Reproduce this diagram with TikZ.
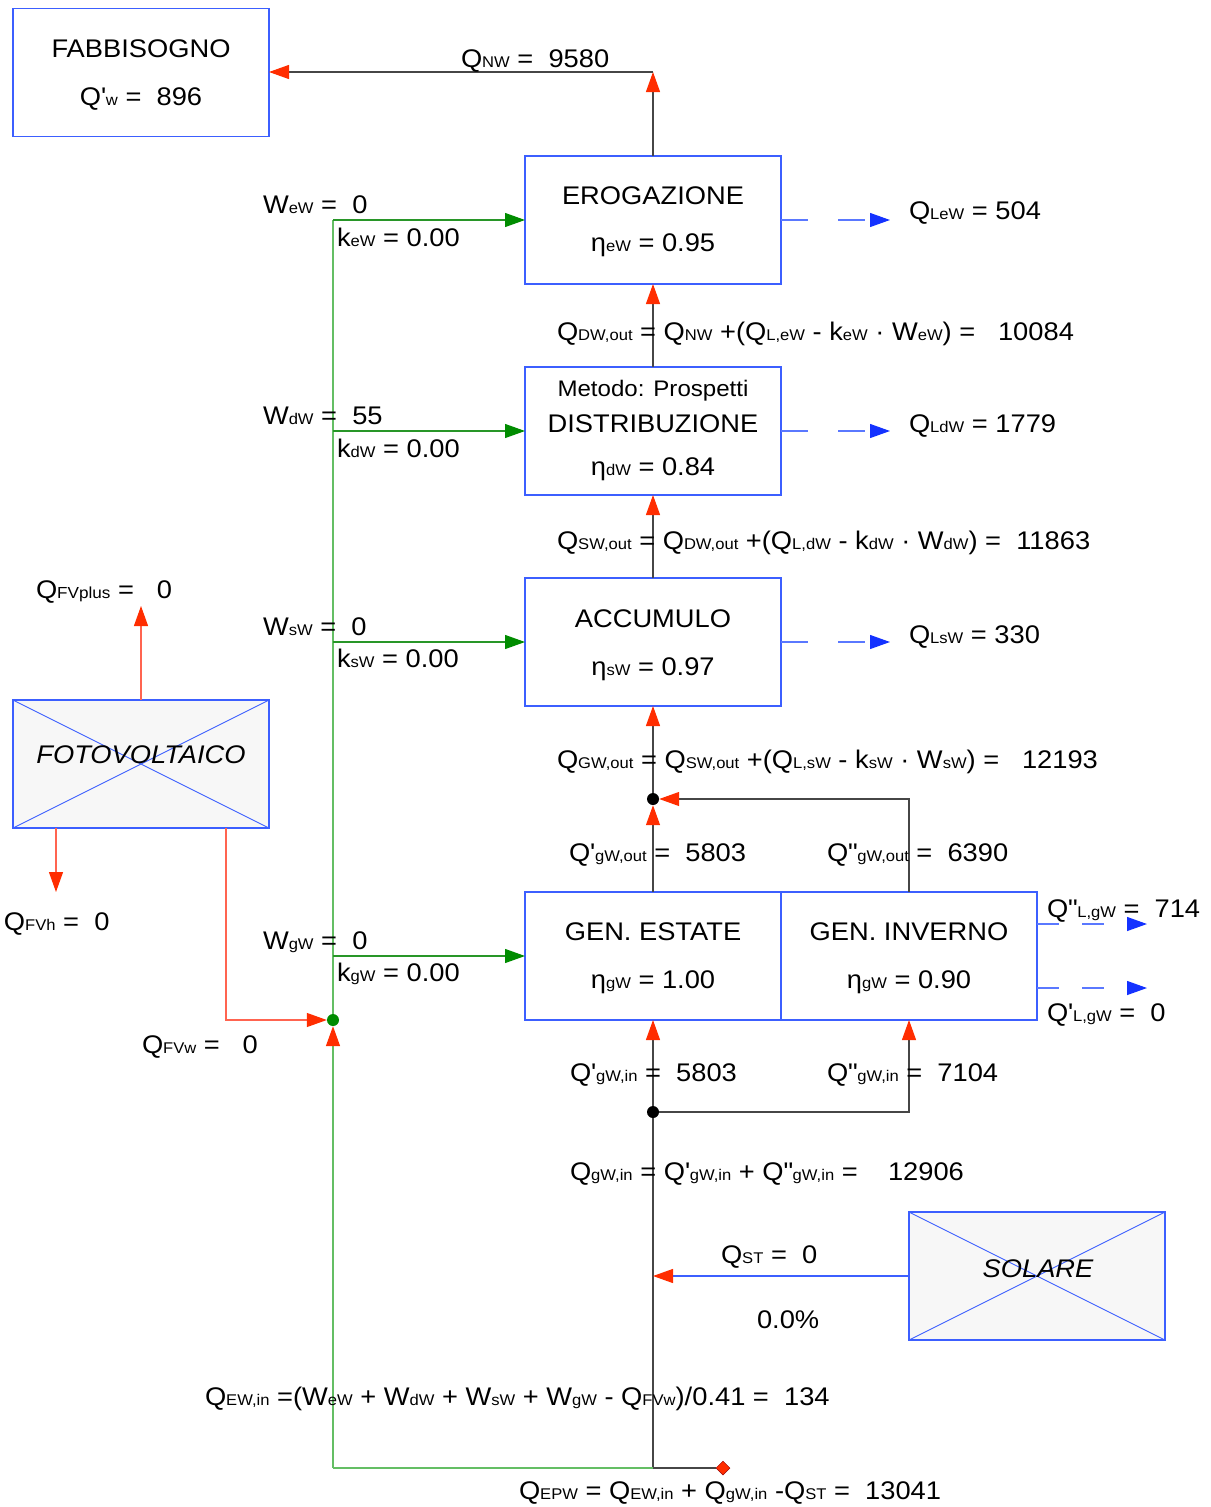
\documentclass[tikz,border=0pt]{standalone}
\usepackage{fontspec}
\setmainfont{Liberation Sans}[FakeStretch=1.07]
\usetikzlibrary{arrows.meta,shapes.geometric}
\definecolor{boxblue}{RGB}{60,95,255}
\definecolor{ared}{RGB}{255,45,0}
\definecolor{lred}{RGB}{255,100,80}
\definecolor{gline}{RGB}{100,190,100}
\definecolor{ghline}{RGB}{40,150,40}
\definecolor{gtipc}{RGB}{0,140,0}
\definecolor{dkgray}{RGB}{70,70,70}
\definecolor{dblue}{RGB}{90,120,255}
\definecolor{btipc}{RGB}{20,50,255}
\definecolor{fvfill}{RGB}{247,247,247}
\newcommand\lsub[1]{{\fontsize{15.5}{15.5}\selectfont #1}}
\newcommand\apo{\XeTeXglyph\XeTeXcharglyph"27\relax}
\newcommand\dqu{\XeTeXglyph\XeTeXcharglyph"22\relax}
\tikzset{
  rtip/.tip={Triangle[length=20pt,width=14pt,color=ared]},
  gtip/.tip={Triangle[length=20pt,width=14pt,color=gtipc]},
  btip/.tip={Triangle[length=20pt,width=14pt,color=btipc]},
  blk/.style={draw=boxblue, line width=1.2pt, minimum width=256pt, minimum height=128pt, inner sep=0pt, outer sep=0pt},
  fvbox/.style={blk, fill=fvfill},
  txt/.style={font=\fontsize{25.5}{30}\selectfont, inner sep=0pt, outer sep=0pt},
  small/.style={font=\fontsize{22.5}{28}\selectfont, inner sep=0pt},
  dk/.style={draw=dkgray, line width=1.2pt},
  gv/.style={draw=gline, line width=1.4pt},
  gh/.style={draw=ghline, line width=1.2pt},
  rl/.style={draw=lred, line width=1.2pt},
  bdash/.style={draw=dblue, line width=1.2pt, dash pattern=on 27pt off 30pt},
  bdash2/.style={draw=dblue, line width=1.2pt, dash pattern=on 22pt off 23pt},
  bl/.style={draw=boxblue, line width=1.2pt},
  dot/.style={circle, fill=black, minimum size=12pt, inner sep=0pt},
  gdot/.style={circle, fill=gtipc, minimum size=12pt, inner sep=0pt},
}
\begin{document}
\begin{tikzpicture}[x=1pt,y=-1pt]
\useasboundingbox (0,0) rectangle (1210,1507);
% boxes
\node[blk] (fab) at (141,72.5) {};
\node[blk] (ero) at (653,220) {};
\node[blk] (dis) at (653,431) {};
\node[blk] (acc) at (653,642) {};
\node[blk] (genE) at (653,956) {};
\node[blk] (genI) at (909,956) {};
\node[fvbox] (fv) at (141,764) {};
\node[fvbox] (sol) at (1037,1276) {};
\draw[bl, line width=0.9pt] (fv.north west) -- (fv.south east) (fv.south west) -- (fv.north east);
\draw[bl, line width=0.9pt] (sol.north west) -- (sol.south east) (sol.south west) -- (sol.north east);
% box texts
\node[txt, anchor=base] (fabT) at (141,57) {FABBISOGNO};
\node[txt, anchor=base] (fabV) at (141,105) {Q\apo\lsub{w} =~~896};
\node[txt, anchor=base] (eroT) at (653,204) {EROGAZIONE};
\node[txt, anchor=base] (eroV) at (653,251) {η\lsub{eW} = 0.95};
\node[small, anchor=base] (disM) at (653,396) {Metodo: Prospetti};
\node[txt, anchor=base] (disT) at (653,432) {DISTRIBUZIONE};
\node[txt, anchor=base] (disV) at (653,475) {η\lsub{dW} = 0.84};
\node[txt, anchor=base] (accT) at (653,627) {ACCUMULO};
\node[txt, anchor=base] (accV) at (653,675) {η\lsub{sW} = 0.97};
\node[txt, anchor=base] (genET) at (653,940) {GEN. ESTATE};
\node[txt, anchor=base] (genEV) at (653,988) {η\lsub{gW} = 1.00};
\node[txt, anchor=base] (genIT) at (909,940) {GEN. INVERNO};
\node[txt, anchor=base] (genIV) at (909,988) {η\lsub{gW} = 0.90};
\node[txt, anchor=base, font=\fontsize{25.5}{30}\selectfont\itshape] (fvT) at (141,763) {FOTOVOLTAICO};
\node[txt, anchor=base, font=\fontsize{25.5}{30}\selectfont\itshape] (solT) at (1038,1277) {SOLARE};
% coordinates and junctions
\coordinate (cNW) at (653,72);
\node[dot] (j1) at (653,799) {};
\node[dot] (j2) at (653,1112) {};
\node[gdot] (gd) at (333,1020) {};
\coordinate (g0) at (333,1468);
\coordinate (gtop) at (333,220);
\coordinate (b2) at (653,1468);
\node[diamond, fill=ared, draw=red!60!black, line width=0.5pt, minimum size=14pt, inner sep=0pt] (dm) at (723,1468) {};
\coordinate (fvp) at (141,606);
\coordinate (fvhTop) at (56,828);
\coordinate (fvh) at (56,892);
\coordinate (fvr) at (226,828);
\coordinate (eL) at (890,220);
\coordinate (dL) at (890,431);
\coordinate (sL) at (890,642);
\coordinate (gL1) at (1147,924);
\coordinate (gL2) at (1147,988);
% black flow
\draw[dk, -{rtip}] (ero.north) -- (cNW);
\draw[dk, -{rtip}] (cNW) -- (fab.east |- cNW);
\draw[dk, -{rtip}] (dis.north) -- (ero.south);
\draw[dk, -{rtip}] (acc.north) -- (dis.south);
\draw[dk, -{rtip}] (j1) -- (acc.south);
\draw[dk, -{rtip}] (genE.north) -- (j1);
\draw[dk, -{rtip}] (genI.north) |- (j1);
\draw[dk, -{rtip}] (j2) -- (genE.south);
\draw[dk, -{rtip}] (j2) -| (genI.south);
\draw[dk] (b2) -- (j2);
\draw[dk] (b2) -- (dm);
\draw[bl, -{rtip}] (sol.west) -- (sol.west -| j2);
% green
\draw[gv] (g0) -- (b2);
\draw[gv, -{rtip}] (g0) -- (gd);
\draw[gv] (gd) -- (gtop);
\draw[gh, -{gtip}] (gtop) -- (ero.west);
\draw[gh, -{gtip}] (dis.west -| gtop) -- (dis.west);
\draw[gh, -{gtip}] (acc.west -| gtop) -- (acc.west);
\draw[gh, -{gtip}] (genE.west -| gtop) -- (genE.west);
% FV red
\draw[rl, -{rtip}] (fv.north) -- (fvp);
\draw[rl, -{rtip}] (fvhTop) -- (fvh);
\draw[rl, -{rtip}] (fvr) |- (gd);
% blue dashed losses
\draw[bdash, -{btip}] (ero.east) -- (eL);
\draw[bdash, -{btip}] (dis.east) -- (dL);
\draw[bdash, -{btip}] (acc.east) -- (sL);
\draw[bdash2, -{btip}] (genI.east |- gL1) -- (gL1);
\draw[bdash2, -{btip}] (genI.east |- gL2) -- (gL2);
% labels
\node[txt, anchor=base west] (lNW) at (461,67) {Q\lsub{NW} =~~9580};
\node[txt, anchor=base west] (lWe) at (263,213) {W\lsub{eW} =~~0};
\node[txt, anchor=base west] (lke) at (337,246) {k\lsub{eW} = 0.00};
\node[txt, anchor=base west] (lLe) at (909,219) {Q\lsub{LeW} = 504};
\node[txt, anchor=base west] (lDW) at (557,340) {Q\lsub{DW,out} = Q\lsub{NW} +(Q\lsub{L,eW} - k\lsub{eW} · W\lsub{eW}) =~~~10084};
\node[txt, anchor=base west] (lWd) at (263,424) {W\lsub{dW} =~~55};
\node[txt, anchor=base west] (lkd) at (337,457) {k\lsub{dW} = 0.00};
\node[txt, anchor=base west] (lLd) at (909,432) {Q\lsub{LdW} = 1779};
\node[txt, anchor=base west] (lSW) at (557,549) {Q\lsub{SW,out} = Q\lsub{DW,out} +(Q\lsub{L,dW} - k\lsub{dW} · W\lsub{dW}) =~~11863};
\node[txt, anchor=base west] (lWs) at (263,635) {W\lsub{sW} =~~0};
\node[txt, anchor=base west] (lks) at (337,667) {k\lsub{sW} = 0.00};
\node[txt, anchor=base west] (lLs) at (909,643) {Q\lsub{LsW} = 330};
\node[txt, anchor=base west] (lGW) at (557,768) {Q\lsub{GW,out} = Q\lsub{SW,out} +(Q\lsub{L,sW} - k\lsub{sW} · W\lsub{sW}) =~~~12193};
\node[txt, anchor=base west] (lgo1) at (569,861) {Q\apo\lsub{gW,out} =~~5803};
\node[txt, anchor=base west] (lgo2) at (827,861) {Q\dqu\lsub{gW,out} =~~6390};
\node[txt, anchor=base west] (lLg2) at (1047,917) {Q\dqu\lsub{L,gW} =~~714};
\node[txt, anchor=base west] (lLg1) at (1047,1021) {Q\apo\lsub{L,gW} =~~0};
\node[txt, anchor=base west] (lWg) at (263,949) {W\lsub{gW} =~~0};
\node[txt, anchor=base west] (lkg) at (337,981) {k\lsub{gW} = 0.00};
\node[txt, anchor=base west] (lFVp) at (36,598) {Q{\fontsize{16}{16}\selectfont FVplus}~=~~~0};
\node[txt, anchor=base west] (lFVh) at (4,930) {Q\lsub{FVh}~=~~0};
\node[txt, anchor=base west] (lFVw) at (142,1053) {Q\lsub{FVw}~=~~~0};
\node[txt, anchor=base west] (lgi1) at (570,1081) {Q\apo\lsub{gW,in}~=~~5803};
\node[txt, anchor=base west] (lgi2) at (827,1081) {Q\dqu\lsub{gW,in}~=~~7104};
\node[txt, anchor=base west] (lgin) at (570,1180) {Q\lsub{gW,in} = Q\apo\lsub{gW,in} + Q\dqu\lsub{gW,in} =~~~~12906};
\node[txt, anchor=base west] (lST) at (721,1263) {Q\lsub{ST}~=~~0};
\node[txt, anchor=base west] (lpct) at (757,1328) {0.0\%};
\node[txt, anchor=base west] (lEW) at (205,1405) {Q\lsub{EW,in} =(W\lsub{eW} + W\lsub{dW} + W\lsub{sW} + W\lsub{gW} - Q\lsub{FVw})/0.41 =~~134};
\node[txt, anchor=base west] (lEPW) at (519,1499) {Q\lsub{EPW} = Q\lsub{EW,in} + Q\lsub{gW,in} -Q\lsub{ST} =~~13041};
\end{tikzpicture}
\end{document}
